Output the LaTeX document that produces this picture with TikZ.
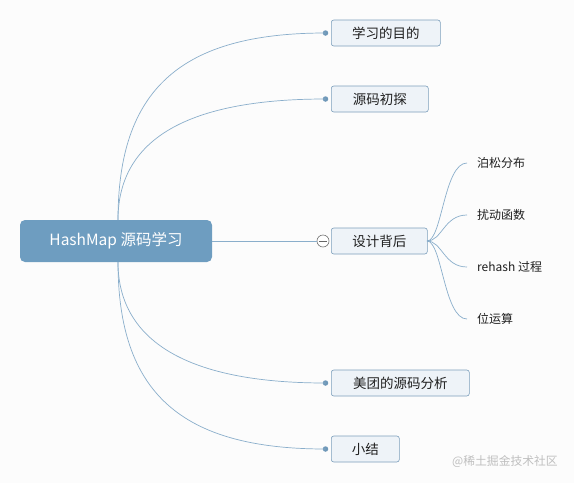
\documentclass[tikz,border=0pt]{standalone}
\usepackage{fontspec}
\newfontfamily\cjk{Noto Sans CJK SC}
\definecolor{linec}{HTML}{8AAECB}
\definecolor{boxfill}{HTML}{EEF3F8}
\definecolor{boxdraw}{HTML}{7D9FBC}
\definecolor{rootfill}{HTML}{6E9DC0}
\definecolor{dotc}{HTML}{6F98B8}
\definecolor{bgc}{HTML}{FCFCFC}
\begin{document}
\begin{tikzpicture}[x=1pt,y=-1pt,
  conn/.style={draw=linec,line width=0.7pt},
  branch/.style={draw=boxdraw,fill=boxfill,rounded corners=2.5pt,line width=0.6pt,anchor=west,minimum height=26pt,inner xsep=0pt,font=\cjk\fontsize{13.5}{15}\selectfont,text=black!88},
  leaf/.style={anchor=west,inner sep=0pt,font=\cjk\fontsize{12}{14}\selectfont,text=black!88},
  dotn/.style={circle,fill=dotc,inner sep=0pt,minimum size=5.5pt}]
\useasboundingbox[fill=bgc] (0,0) rectangle (574,483);
% root
\node[draw=none,fill=rootfill,rounded corners=5pt,minimum width=192pt,minimum height=42pt,inner sep=0pt,
  font=\cjk\fontsize{15.5}{18}\selectfont,text=white] (root) at (116,241) {HashMap 源码学习};
% branches
\node[branch,minimum width=109pt] (b1) at (331,33) {学习的目的};
\node[branch,minimum width=97pt] (b2) at (331,99) {源码初探};
\node[branch,minimum width=96pt] (b3) at (331,241) {设计背后};
\node[branch,minimum width=138pt] (b4) at (331,383) {美团的源码分析};
\node[branch,minimum width=68pt] (b5) at (331,449) {小结};
% dots
\node[dotn] (d1) at (325.5,33) {};
\node[dotn] (d2) at (325.5,99) {};
\node[dotn] (d4) at (325.5,383) {};
\node[dotn] (d5) at (325.5,449) {};
\coordinate (rt) at (118,220);
\coordinate (rb) at (118,262);
\draw[conn] (rt) .. controls (118,90) and (180,33) .. (d1.center);
\draw[conn] (rt) .. controls (118,150) and (170,99) .. (d2.center);
\draw[conn] (rb) .. controls (118,330) and (170,383) .. (d4.center);
\draw[conn] (rb) .. controls (118,392) and (180,449) .. (d5.center);
% collapse circle
\node[circle,draw=black!55,fill=white,line width=0.6pt,minimum size=12pt,inner sep=0pt] (col) at (323,241) {};
\draw[conn] (root.east) -- (col.west);
\draw[black!60,line width=0.6pt] ([xshift=-4pt]col.center) -- ([xshift=4pt]col.center);
% leaves
\node[leaf] (l1) at (477,163) {泊松分布};
\node[leaf] (l2) at (477,215) {扰动函数};
\node[leaf] (l3) at (477,267) {rehash 过程};
\node[leaf] (l4) at (477,319) {位运算};
\coordinate (bo) at (427,241);
\foreach \i/\y in {1/163,2/215,3/267,4/319}{
  \coordinate (e\i) at (467,\y);
  \draw[conn] (bo) .. controls (442,241) and (444,\y) .. (e\i);
}
% watermark
\node[anchor=west,inner sep=0pt,font=\cjk\fontsize{11.8}{13}\selectfont,text=black!25] (wm) at (452,462) {@稀土掘金技术社区};
\end{tikzpicture}
\end{document}
